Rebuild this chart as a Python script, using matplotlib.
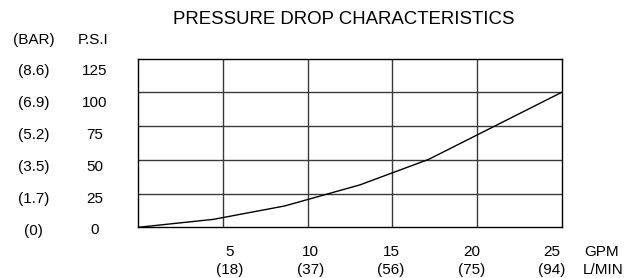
import matplotlib
matplotlib.use("Agg")
import matplotlib.pyplot as plt

# Chart data
gpm = [0, 4.44, 8.64, 13.08, 17.16, 25]
psi = [0, 5.9, 15.8, 31.4, 50.4, 100]

psi_ticks = [125, 100, 75, 50, 25, 0]
bar_labels = ["(8.6)", "(6.9)", "(5.2)", "(3.5)", "(1.7)", "(0)"]
gpm_ticks = [5, 10, 15, 20, 25]
lpm_labels = ["(18)", "(37)", "(56)", "(75)", "(94)"]

W, H = 630, 278
plt.rcParams['font.family'] = ['Liberation Sans', 'DejaVu Sans']

fig = plt.figure(figsize=(W / 100, H / 100), dpi=100)
ax = fig.add_axes([138.3 / W, 1 - 227.3 / H, (561.5 - 138.3) / W, (227.3 - 58.7) / H])

# grid
for g in gpm_ticks[:-1]:
    ax.axvline(g, color='#3a3a3a', lw=1.0, zorder=1)
for p in psi_ticks[1:-1]:
    ax.axhline(p, color='#3a3a3a', lw=1.0, zorder=1)

ax.plot(gpm, psi, color='black', lw=1.0, zorder=3)
ax.set_xlim(0, 25)
ax.set_ylim(0, 125)
ax.set_xticks([])
ax.set_yticks([])
for s in ax.spines.values():
    s.set_color('black')
    s.set_linewidth(1.0)

def px(x, y):
    return x / W, 1 - y / H

fs = 11
fig.text(*px(344, 20), "PRESSURE DROP CHARACTERISTICS", ha='center', va='center', fontsize=13.4)

# left labels
fig.text(*px(33.5, 40), "(BAR)", ha='center', va='center', fontsize=fs)
fig.text(*px(93, 40), "P.S.I", ha='center', va='center', fontsize=fs)
for i, (p, b) in enumerate(zip(psi_ticks, bar_labels)):
    y = 71 + i * 31.9
    fig.text(*px(33.5, y), b, ha='center', va='center', fontsize=fs)
    fig.text(*px(95, y), str(p), ha='center', va='center', fontsize=fs)

# bottom labels
for i, (g, l) in enumerate(zip(gpm_ticks, lpm_labels)):
    x = 230 + i * 80.5
    fig.text(*px(x, 251.7), str(g), ha='center', va='center', fontsize=fs)
    fig.text(*px(x, 270), l, ha='center', va='center', fontsize=fs)
fig.text(*px(601.7, 251.7), "GPM", ha='center', va='center', fontsize=fs)
fig.text(*px(603, 270), "L/MIN", ha='center', va='center', fontsize=fs)

fig.savefig("out.png", dpi=100)
